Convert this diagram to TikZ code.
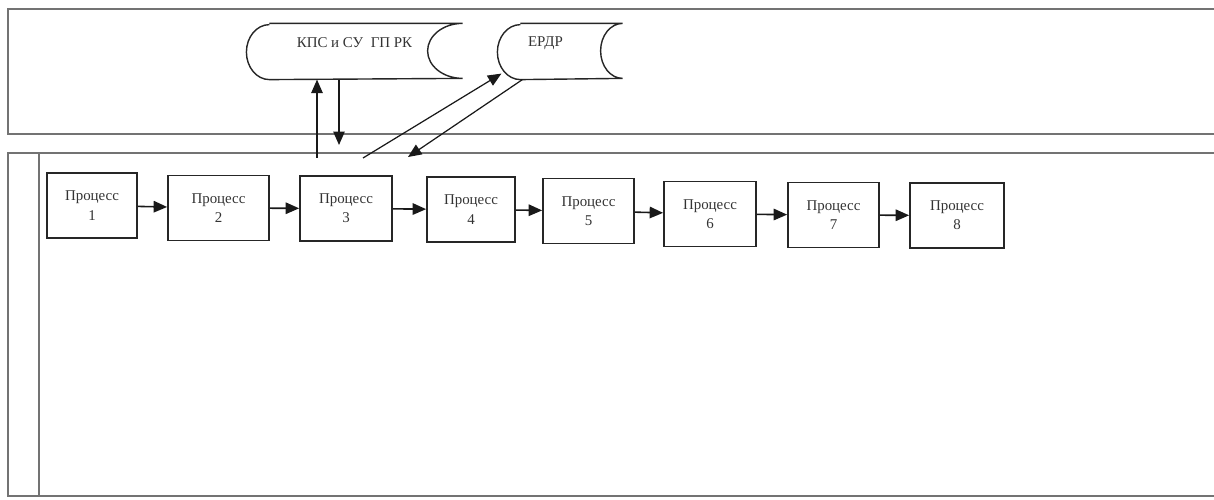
\documentclass[tikz,border=0pt]{standalone}
\usepackage{fontspec}
\setmainfont{Liberation Serif}
\usetikzlibrary{calc, positioning, arrows.meta}

\begin{document}
\begin{tikzpicture}[x=0.02cm, y=-0.02cm, >={Triangle[length=2.7mm, width=2.3mm]}, line width=0.7pt,
		proc/.style={draw=black!85, line width=1pt, minimum height=1.3cm, inner sep=1pt, align=center, text=black!80, font=\fontsize{8.5}{11}\selectfont},
		stor/.style={minimum height=1.1cm, inner sep=0pt},
		lbl/.style={text=black!80, font=\fontsize{8.5}{10}\selectfont},
		frame/.style={draw=black!55, line width=0.8pt},
		arr/.style={->, draw=black!90, line width=0.9pt}]
		\useasboundingbox (0,0) rectangle (1214,500);

		% lanes
		\draw[frame] (1214,9) -- (8,9) -- (8,134) -- (1214,134);
		\draw[frame] (1214,153) -- (8,153) -- (8,496) -- (1214,496);
		\draw[frame] (39,153) -- (39,496);

		% data stores
		\node[stor, minimum width=4.3cm, label={[lbl, yshift=0.17cm]center:КПС и СУ\ \ ГП РК}] (KPS) at (354.5,51.5) {};
		\node[stor, minimum width=2.48cm, label={[lbl, xshift=-0.29cm, yshift=0.17cm]center:ЕРДР}] (ERDR) at (560,51.5) {};

		\draw[draw=black!85, line width=0.8pt]
		([xshift=0.46cm]KPS.north west) -- (KPS.north east)
		arc[start angle=90, end angle=270, x radius=0.7cm, y radius=0.55cm]
		-- ([xshift=0.46cm]KPS.south west)
		arc[start angle=270, end angle=90, x radius=0.46cm, y radius=0.55cm];

		\draw[draw=black!85, line width=0.8pt]
		([xshift=0.46cm]ERDR.north west) -- (ERDR.north east)
		arc[start angle=90, end angle=270, x radius=0.44cm, y radius=0.55cm]
		-- ([xshift=0.46cm]ERDR.south west)
		arc[start angle=270, end angle=90, x radius=0.46cm, y radius=0.55cm];

		% processes
		\node[proc, minimum width=1.8cm] (P1) at (92,205.5) {Процесс\\1};
		\node[proc, minimum width=2.02cm] (P2) at (218.5,208) {Процесс\\2};
		\node[proc, minimum width=1.84cm] (P3) at (346,208.5) {Процесс\\3};
		\node[proc, minimum width=1.76cm] (P4) at (471,209.5) {Процесс\\4};
		\node[proc, minimum width=1.82cm] (P5) at (588.5,211) {Процесс\\5};
		\node[proc, minimum width=1.84cm] (P6) at (710,214) {Процесс\\6};
		\node[proc, minimum width=1.82cm] (P7) at (833.5,215) {Процесс\\7};
		\node[proc, minimum width=1.88cm] (P8) at (957,215.5) {Процесс\\8};

		\draw[arr] (P1) -- (P2);
		\draw[arr] (P2) -- (P3);
		\draw[arr] (P3) -- (P4);
		\draw[arr] (P4) -- (P5);
		\draw[arr] (P5) -- (P6);
		\draw[arr] (P6) -- (P7);
		\draw[arr] (P7) -- (P8);

		% exchange with the stores
		\coordinate (u1) at (317,158);
		\coordinate (d1) at (339,145);
		\coordinate (u2) at (363,158);
		\coordinate (d2) at (408,157);

		\draw[arr, line width=0.7pt] (u1) -- (u1 |- KPS.south);
		\draw[arr, line width=0.7pt] (d1 |- KPS.south) -- (d1);
		\draw[arr, line width=0.7pt] (u2) -- ([shift={(4,-6)}]ERDR.south west);
		\draw[arr, line width=0.7pt] ([xshift=0.5cm]ERDR.south west) -- (d2);

	\end{tikzpicture}
\end{document}
